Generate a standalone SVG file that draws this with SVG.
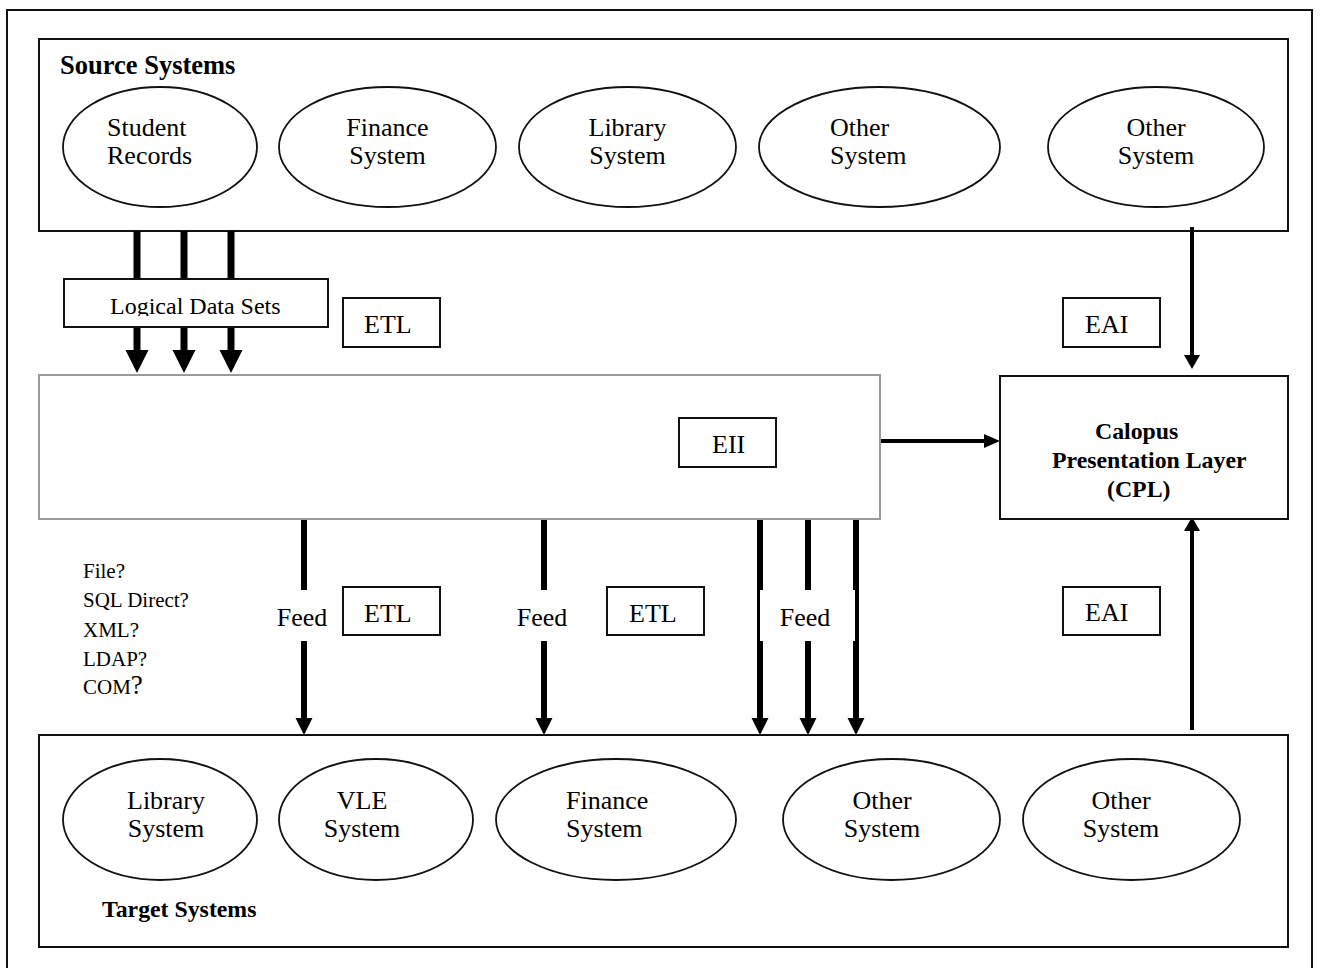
<svg xmlns="http://www.w3.org/2000/svg" width="1321" height="968" viewBox="0 0 1321 968">
<style>
  .frame{fill:none;stroke:#111;stroke-width:2}
  .box{fill:#fff;stroke:#111;stroke-width:2}
  .gbox{fill:#fff;stroke:#9a9a9a;stroke-width:2}
  .ell{fill:#fff;stroke:#111;stroke-width:1.8}
  text{font-family:"Liberation Serif","Times New Roman",serif;fill:#000}
  .t26{font-size:26px}
  .t24{font-size:24px}
  .t21{font-size:21px}
  .b26{font-size:26.5px;font-weight:bold}
  .b23{font-size:23.8px;font-weight:bold}
  .mid{text-anchor:middle}
  .thick{stroke:#000;stroke-width:7;fill:none}
  .feed{stroke:#000;stroke-width:6;fill:none}
  .thin{stroke:#000;stroke-width:4;fill:none}
  .head{fill:#000}
</style>
<defs>
  <clipPath id="ldsClip"><rect x="64" y="279" width="264" height="37"/></clipPath>
</defs>
<rect x="0" y="0" width="1321" height="968" fill="#fff"/>
<rect id="outer-frame" class="frame" x="7" y="10" width="1305" height="970"/>

<g id="source-systems">
  <rect class="box" x="39" y="39" width="1249" height="192"/>
  <text class="b26" x="60" y="74">Source Systems</text>
</g>
<g id="src-student-records">
  <ellipse class="ell" cx="160" cy="147" rx="97" ry="60"/>
  <text class="t26" x="107" y="136">Student</text>
  <text class="t26" x="107" y="164">Records</text>
</g>
<g id="src-finance">
  <ellipse class="ell" cx="387.5" cy="147" rx="108.5" ry="60"/>
  <text class="t26 mid" x="387.5" y="136">Finance</text>
  <text class="t26 mid" x="387.5" y="164">System</text>
</g>
<g id="src-library">
  <ellipse class="ell" cx="627.5" cy="147" rx="108.5" ry="60"/>
  <text class="t26 mid" x="627.5" y="136">Library</text>
  <text class="t26 mid" x="627.5" y="164">System</text>
</g>
<g id="src-other-1">
  <ellipse class="ell" cx="879.5" cy="147" rx="120.5" ry="60"/>
  <text class="t26" x="830" y="136">Other</text>
  <text class="t26" x="830" y="164">System</text>
</g>
<g id="src-other-2">
  <ellipse class="ell" cx="1156" cy="147" rx="108" ry="60"/>
  <text class="t26 mid" x="1156" y="136">Other</text>
  <text class="t26 mid" x="1156" y="164">System</text>
</g>

<g id="connectors">
  <line class="thick" x1="137" y1="231" x2="137" y2="352"/>
  <line class="thick" x1="184" y1="231" x2="184" y2="352"/>
  <line class="thick" x1="231" y1="231" x2="231" y2="352"/>
  <polygon class="head" points="125.5,350 148.5,350 137,373"/>
  <polygon class="head" points="172.5,350 195.5,350 184,373"/>
  <polygon class="head" points="219.5,350 242.5,350 231,373"/>
  <line class="thin" x1="1192" y1="227" x2="1192" y2="356"/>
  <polygon class="head" points="1184,355 1200,355 1192,369"/>
  <line class="thin" x1="880" y1="441" x2="985" y2="441"/>
  <polygon class="head" points="984,434 1000,441 984,448"/>
  <line class="thin" x1="1192" y1="730" x2="1192" y2="530"/>
  <polygon class="head" points="1184,531 1200,531 1192,517"/>
  <line class="feed" x1="304" y1="519" x2="304" y2="590"/>
  <line class="feed" x1="304" y1="641" x2="304" y2="720"/>
  <polygon class="head" points="295.5,718 312.5,718 304,735"/>
  <line class="feed" x1="544" y1="519" x2="544" y2="590"/>
  <line class="feed" x1="544" y1="641" x2="544" y2="720"/>
  <polygon class="head" points="535.5,718 552.5,718 544,735"/>
  <line class="feed" x1="760" y1="519" x2="760" y2="720"/>
  <polygon class="head" points="751.5,718 768.5,718 760,735"/>
  <line class="feed" x1="808" y1="519" x2="808" y2="720"/>
  <polygon class="head" points="799.5,718 816.5,718 808,735"/>
  <line class="feed" x1="856" y1="519" x2="856" y2="720"/>
  <polygon class="head" points="847.5,718 864.5,718 856,735"/>
  <rect x="760" y="590" width="95" height="51" fill="#fff"/>
</g>

<g id="logical-data-sets">
  <rect class="box" x="64" y="279" width="264" height="48"/>
  <text class="t24" x="110" y="314" clip-path="url(#ldsClip)">Logical Data Sets</text>
</g>
<g id="etl-top">
  <rect class="box" x="343" y="298" width="97" height="49"/>
  <text class="t26" x="364" y="333">ETL</text>
</g>
<g id="eai-top">
  <rect class="box" x="1063" y="298" width="97" height="49"/>
  <text class="t26" x="1085" y="333">EAI</text>
</g>

<g id="eii-layer">
  <rect class="gbox" x="39" y="375" width="841" height="144"/>
</g>
<g id="eii">
  <rect class="box" x="679" y="418" width="97" height="49"/>
  <text class="t26" x="712" y="453">EII</text>
</g>
<g id="cpl">
  <rect class="box" x="1000" y="376" width="288" height="143"/>
  <text class="b23" x="1095" y="439">Calopus</text>
  <text class="b23" x="1052" y="468">Presentation Layer</text>
  <text class="b23" x="1107" y="497">(CPL)</text>
</g>

<g id="protocols">
  <text class="t21" x="83" y="578">File?</text>
  <text class="t21" x="83" y="607">SQL Direct?</text>
  <text class="t21" x="83" y="637">XML?</text>
  <text class="t21" x="83" y="666">LDAP?</text>
  <text class="t21" x="83" y="694">COM<tspan style="font-size:27px">?</tspan></text>
</g>

<g id="feed-labels">
  <text class="t26 mid" x="302" y="626">Feed</text>
  <text class="t26 mid" x="542" y="626">Feed</text>
  <text class="t26 mid" x="805" y="626">Feed</text>
</g>
<g id="etl-mid-1">
  <rect class="box" x="343" y="587" width="97" height="48"/>
  <text class="t26" x="364" y="622">ETL</text>
</g>
<g id="etl-mid-2">
  <rect class="box" x="607" y="587" width="97" height="48"/>
  <text class="t26" x="629" y="622">ETL</text>
</g>
<g id="eai-bottom">
  <rect class="box" x="1063" y="587" width="97" height="48"/>
  <text class="t26" x="1085" y="621">EAI</text>
</g>

<g id="target-systems">
  <rect class="box" x="39" y="735" width="1249" height="212"/>
  <text class="b23" x="102" y="917">Target Systems</text>
</g>
<g id="tgt-library">
  <ellipse class="ell" cx="160" cy="819.5" rx="97" ry="60.5"/>
  <text class="t26 mid" x="166" y="809">Library</text>
  <text class="t26 mid" x="166" y="837">System</text>
</g>
<g id="tgt-vle">
  <ellipse class="ell" cx="376" cy="819.5" rx="97" ry="60.5"/>
  <text class="t26 mid" x="362" y="809">VLE</text>
  <text class="t26 mid" x="362" y="837">System</text>
</g>
<g id="tgt-finance">
  <ellipse class="ell" cx="616" cy="819.5" rx="120" ry="60.5"/>
  <text class="t26" x="566" y="809">Finance</text>
  <text class="t26" x="566" y="837">System</text>
</g>
<g id="tgt-other-1">
  <ellipse class="ell" cx="891.5" cy="819.5" rx="108.5" ry="60.5"/>
  <text class="t26 mid" x="882" y="809">Other</text>
  <text class="t26 mid" x="882" y="837">System</text>
</g>
<g id="tgt-other-2">
  <ellipse class="ell" cx="1131.5" cy="819.5" rx="108.5" ry="60.5"/>
  <text class="t26 mid" x="1121" y="809">Other</text>
  <text class="t26 mid" x="1121" y="837">System</text>
</g>
</svg>
